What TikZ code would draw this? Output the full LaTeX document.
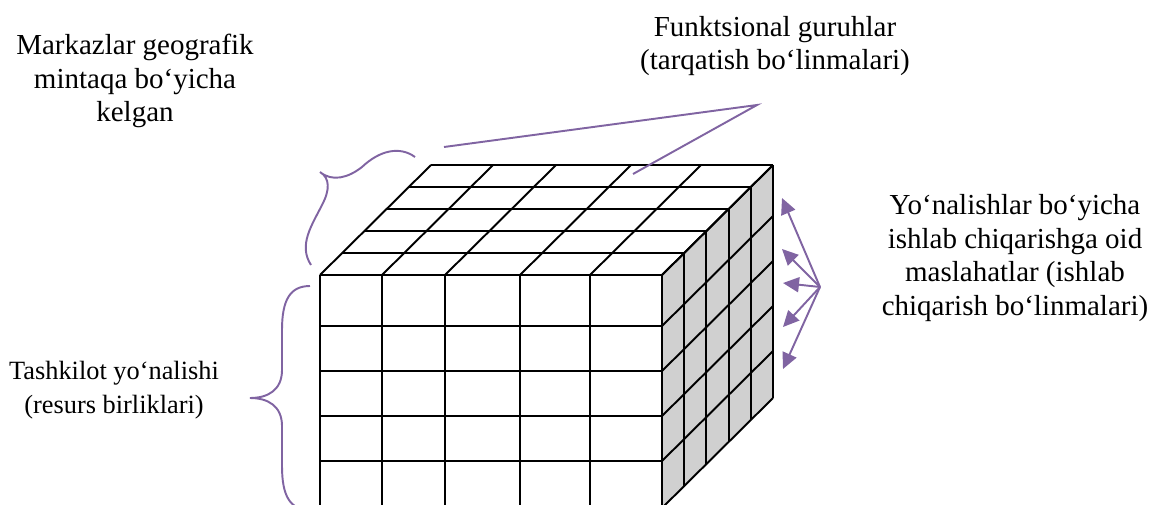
\documentclass[tikz,border=0pt]{standalone}
\usepackage{fontspec}
\setmainfont{Liberation Serif}
\usetikzlibrary{arrows.meta}
\definecolor{braceviolet}{RGB}{128,100,162}
\definecolor{sidegray}{RGB}{208,208,208}
\tikzset{
  grid line/.style={black, line width=1.1pt},
  pointer/.style={braceviolet, line width=1.1pt},
  label text/.style={font=\fontsize{16.5}{19.3}\selectfont, align=center},
  small text/.style={font=\fontsize{15}{19}\selectfont, align=center},
}
\begin{document}
\begin{tikzpicture}[x=0.02cm, y=-0.02cm]
\clip (0,0) rectangle (1152,504);
\fill[sidegray] (662,275) -- (773,165) -- (773,398) -- (662,508) -- cycle;
\foreach \x in {320,382,445,520,590,662}
  \draw[grid line] (\x,275) -- (\x,508);
\foreach \y in {275,326,371,416,461,508}
  \draw[grid line] (320,\y) -- (662,\y);
\foreach \x in {320,382,445,520,590,662}
  \draw[grid line] (\x,275) -- ++(111,-110);
\foreach \k in {0,...,5}
  \draw[grid line] (320+22.2*\k,275-22*\k) -- ++(342,0);
\foreach \k in {0,...,5}
  \draw[grid line] (662+22.2*\k,275-22*\k) -- ++(0,233);
\foreach \y in {275,326,371,416,461,508}
  \draw[grid line] (662,\y) -- ++(111,-110);

\node[label text] (geo) at (135,81) {Markazlar geografik\\mintaqa bo‘yicha\\kelgan};
\node[label text] (func) at (775,46) {Funktsional guruhlar\\(tarqatish bo‘linmalari)};
\node[label text] (prod) at (1015,258) {Yo‘nalishlar bo‘yicha\\ishlab chiqarishga oid\\maslahatlar (ishlab\\chiqarish bo‘linmalari)};
\node[small text] (org) at (114,390) {Tashkilot yo‘nalishi\\(resurs birliklari)};

\draw[pointer] (310,286) .. controls (290,286) and (282,300) .. (282,330) -- (282,370)
  .. controls (282,390) and (268,398) .. (250,398)
  .. controls (268,398) and (282,406) .. (282,426) -- (282,466)
  .. controls (282,496) and (290,510) .. (310,510);
\draw[pointer] (311,265) .. controls (298,245) and (312,225) .. (322,205)
  .. controls (330,190) and (330,178) .. (320,172)
  .. controls (332,182) and (348,178) .. (362,167)
  .. controls (380,150) and (400,146) .. (415,157);

\coordinate (funcA) at (444,147);
\coordinate (funcTip) at (757,105);
\coordinate (funcB) at (633,174);
\draw[pointer] (funcA) -- (funcTip) -- (funcB);

\coordinate (fan) at (820,287);
\foreach \n/\x/\y in {1/782/198, 2/782/249, 3/783/283, 4/783/327, 5/783/369}
  \coordinate (side\n) at (\x,\y);
\foreach \n in {1,...,5}
  \draw[pointer, -{Triangle[length=0.32cm,width=0.3cm]}] (fan) -- (side\n);
\end{tikzpicture}
\end{document}
